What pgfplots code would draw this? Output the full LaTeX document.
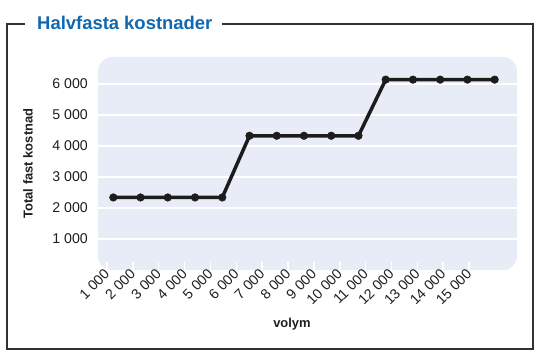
\documentclass[border=0pt]{standalone}
\usepackage{pgfplots}
\pgfplotsset{compat=1.18}
\usepackage{fontspec}
\setmainfont{Liberation Sans}
\definecolor{panel}{RGB}{232,236,247}
\definecolor{titleblue}{RGB}{16,104,176}
\definecolor{framegray}{RGB}{50,50,50}
\definecolor{txt}{RGB}{30,30,30}
\definecolor{linec}{RGB}{28,28,28}
\begin{document}
\begin{tikzpicture}
\begin{axis}[
  at={(98bp,-270bp)}, anchor=south west,
  width=419bp, height=213bp, scale only axis,
  xmin=0.438, xmax=15.82, ymin=0, ymax=6870,
  axis line style={draw=none},
  axis background/.style={fill=panel, rounded corners=14bp},
  ytick={1000,2000,3000,4000,5000,6000},
  yticklabels={1 000,2 000,3 000,4 000,5 000,6 000},
  ytick style={draw=none},
  ymajorgrids, grid style={white, line width=2bp},
  xtick={0.769,1.718,2.668,3.617,4.567,5.516,6.465,7.415,8.364,9.313,10.263,11.212,12.162,13.111,14.060},
  xticklabels={1 000,2 000,3 000,4 000,5 000,6 000,7 000,8 000,9 000,10 000,11 000,12 000,13 000,14 000,15 000},
  xtick pos=bottom, tick align=inside,
  major tick length=8bp,
  xtick style={white, line width=1.5bp},
  xticklabel style={rotate=45, anchor=east, font=\fontsize{14.2}{16}\selectfont, text=txt, inner sep=1bp, yshift=-1bp},
  yticklabel style={font=\fontsize{14.2}{16}\selectfont, text=txt, inner sep=0bp, xshift=-10bp},
  xlabel={volym},
  ylabel={Total fast kostnad},
  xlabel style={at={([yshift=-54bp]rel axis cs:0.463,0)}, anchor=center, font=\bfseries\fontsize{13}{15}\selectfont, text=txt},
  ylabel style={at={([xshift=-70bp]rel axis cs:0,0.5)}, anchor=center, font=\bfseries\fontsize{13}{15}\selectfont, text=txt},
  clip=false,
]
\addplot[linec, line width=3.5bp, mark=*, mark size=3.8bp, mark options={fill=linec, draw=linec, line width=0.5bp}]
coordinates {
(1,2340) (2,2340) (3,2340) (4,2340) (5,2340)
(6,4330) (7,4330) (8,4330) (9,4330) (10,4330)
(11,6140) (12,6140) (13,6140) (14,6140) (15,6140)
};
\end{axis}
\draw[framegray, line width=1.3bp] (25bp,-24bp) -- (7bp,-24bp) -- (7bp,-349bp) -- (533bp,-349bp) -- (533bp,-24bp) -- (222bp,-24bp);
\node[anchor=base west, inner sep=0pt, text=titleblue, font=\bfseries\fontsize{18.5}{22}\selectfont] at (37bp,-29.3bp) {Halvfasta kostnader};
\pgfresetboundingbox
\path (0bp,0bp) rectangle (550bp,-354bp);
\end{tikzpicture}
\end{document}
